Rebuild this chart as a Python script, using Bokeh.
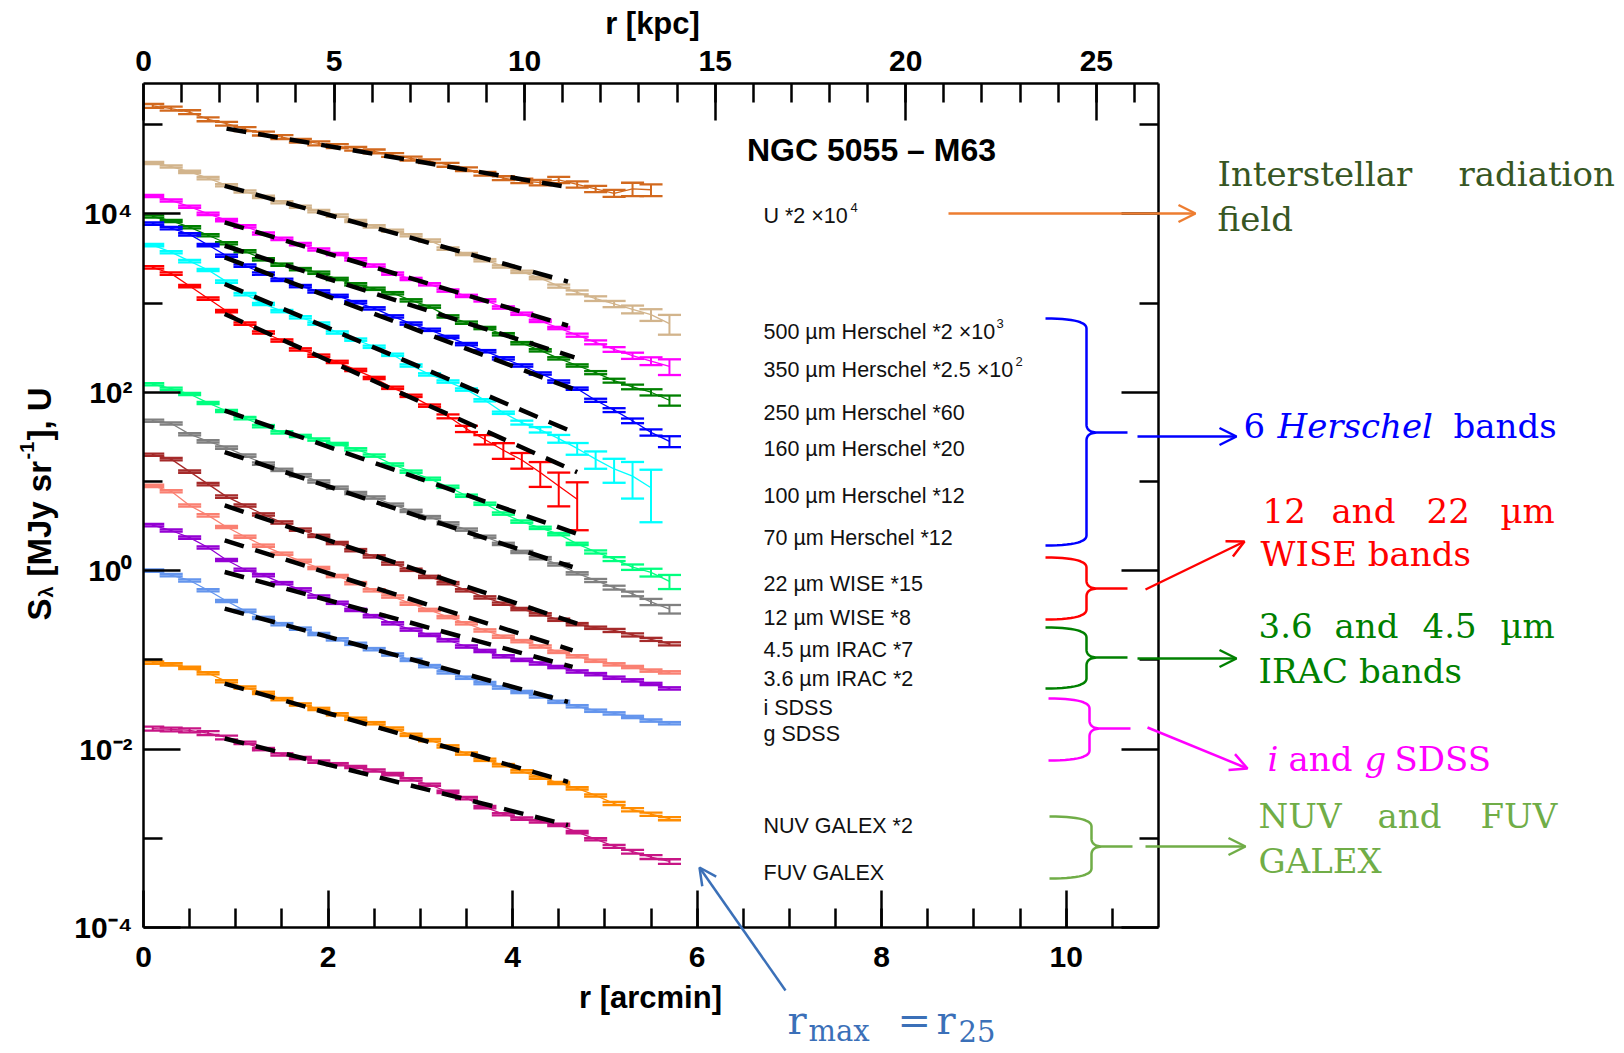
from math import log10, pi
import numpy as np
from bokeh.plotting import figure
from bokeh.models import (Range1d, LinearAxis, LogAxis, FixedTicker, Label, GridBox,
                          Arrow, OpenHead, CustomJSTickFormatter)
from bokeh.embed import file_html
from bokeh.resources import INLINE

# ---------------- data ----------------
r_arcmin = [0.1, 0.3, 0.5, 0.7, 0.9, 1.1, 1.3, 1.5, 1.7, 1.9, 2.1, 2.3, 2.5, 2.7, 2.9,
            3.1, 3.3, 3.5, 3.7, 3.9, 4.1, 4.3, 4.5, 4.7, 4.9, 5.1, 5.3, 5.5, 5.7]
KPC_PER_ARCMIN = 2.421

# log10 of the (scaled) surface brightness / U
log_U = [5.21, 5.18, 5.14, 5.06, 5.01, 4.95, 4.90, 4.86, 4.82, 4.79, 4.76, 4.73, 4.70, 4.66,
         4.62, 4.59, 4.55, 4.50, 4.45, 4.40, 4.37, 4.35, 4.38, 4.33, 4.28, 4.23, 4.28, 4.27]
log_500 = [4.57, 4.53, 4.47, 4.40, 4.32, 4.25, 4.19, 4.13, 4.08, 4.03, 3.98, 3.92, 3.86, 3.81, 3.76,
           3.70, 3.61, 3.55, 3.48, 3.41, 3.35, 3.28, 3.19, 3.12, 3.05, 2.99, 2.93, 2.87, 2.77]
log_350 = [4.20, 4.15, 4.08, 4.00, 3.93, 3.86, 3.78, 3.72, 3.66, 3.60, 3.55, 3.49, 3.42, 3.33, 3.27,
           3.21, 3.14, 3.08, 3.03, 2.95, 2.88, 2.80, 2.72, 2.64, 2.56, 2.48, 2.41, 2.35, 2.29]
log_250 = [3.97, 3.92, 3.85, 3.76, 3.67, 3.58, 3.49, 3.43, 3.38, 3.34, 3.27, 3.21, 3.16, 3.11, 3.03,
           2.96, 2.85, 2.78, 2.72, 2.65, 2.55, 2.47, 2.38, 2.30, 2.22, 2.13, 2.06, 2.00, 1.91]
log_160 = [3.89, 3.84, 3.77, 3.65, 3.53, 3.42, 3.33, 3.26, 3.19, 3.13, 3.08, 3.01, 2.94, 2.85, 2.77,
           2.70, 2.62, 2.54, 2.46, 2.38, 2.30, 2.21, 2.12, 2.04, 1.91, 1.80, 1.68, 1.55, 1.45]
log_100 = [3.65, 3.57, 3.47, 3.37, 3.24, 3.10, 2.99, 2.91, 2.84, 2.77, 2.67, 2.59, 2.51, 2.42, 2.30,
           2.20, 2.12, 2.03, 1.91, 1.77, 1.66, 1.58, 1.48, 1.37, 1.25, 1.14, 1.06, 0.93]
log_70 = [3.40, 3.33, 3.19, 3.05, 2.91, 2.77, 2.67, 2.58, 2.48, 2.41, 2.34, 2.25, 2.16, 2.05, 1.96,
          1.85, 1.73, 1.59, 1.47, 1.35, 1.24, 1.10, 0.95, 0.80]
log_22 = [2.09, 2.04, 1.98, 1.88, 1.79, 1.71, 1.62, 1.55, 1.51, 1.47, 1.42, 1.36, 1.29, 1.19, 1.11,
          1.03, 0.94, 0.84, 0.75, 0.64, 0.55, 0.48, 0.41, 0.30, 0.21, 0.13, 0.04, -0.02, -0.12]
log_12 = [1.68, 1.65, 1.53, 1.45, 1.38, 1.29, 1.20, 1.13, 1.07, 1.00, 0.93, 0.87, 0.82, 0.74, 0.67,
          0.60, 0.53, 0.46, 0.38, 0.30, 0.21, 0.14, 0.07, -0.03, -0.11, -0.19, -0.26, -0.35, -0.43]
log_45 = [1.30, 1.25, 1.11, 0.97, 0.83, 0.73, 0.63, 0.54, 0.46, 0.39, 0.31, 0.23, 0.16, 0.08, 0.01,
          -0.07, -0.14, -0.22, -0.30, -0.37, -0.43, -0.49, -0.55, -0.60, -0.64, -0.67, -0.72, -0.77, -0.82]
log_36 = [0.95, 0.89, 0.73, 0.62, 0.49, 0.38, 0.28, 0.19, 0.11, 0.03, -0.06, -0.14, -0.22, -0.29, -0.37,
          -0.44, -0.52, -0.59, -0.67, -0.74, -0.79, -0.85, -0.91, -0.96, -1.01, -1.05, -1.08, -1.12, -1.14]
log_i = [0.51, 0.45, 0.37, 0.26, 0.12, 0.01, -0.05, -0.14, -0.21, -0.29, -0.36, -0.44, -0.51, -0.59, -0.66,
         -0.72, -0.78, -0.85, -0.90, -0.96, -1.00, -1.04, -1.08, -1.13, -1.16, -1.20, -1.23, -1.27, -1.32]
log_g = [0.00, -0.05, -0.11, -0.22, -0.34, -0.45, -0.53, -0.60, -0.65, -0.71, -0.77, -0.82, -0.88, -0.94, -1.00,
         -1.07, -1.14, -1.20, -1.26, -1.31, -1.36, -1.41, -1.47, -1.52, -1.57, -1.60, -1.64, -1.68, -1.71]
log_NUV = [-1.03, -1.05, -1.09, -1.15, -1.24, -1.31, -1.37, -1.44, -1.50, -1.55, -1.61, -1.66, -1.71, -1.77, -1.84,
           -1.90, -1.97, -2.05, -2.12, -2.18, -2.25, -2.32, -2.38, -2.44, -2.52, -2.61, -2.68, -2.73, -2.78]
log_FUV = [-1.77, -1.78, -1.79, -1.82, -1.87, -1.93, -2.00, -2.06, -2.10, -2.14, -2.17, -2.20, -2.24, -2.28, -2.34,
           -2.40, -2.48, -2.55, -2.65, -2.73, -2.78, -2.81, -2.85, -2.93, -3.01, -3.09, -3.15, -3.21, -3.26]

# relative (linear) errors
err_U = [0.05, 0.05, 0.05, 0.05, 0.05, 0.05, 0.05, 0.05, 0.05, 0.05, 0.05, 0.05, 0.05, 0.05,
         0.05, 0.05, 0.05, 0.05, 0.05, 0.05, 0.06, 0.07, 0.08, 0.08, 0.08, 0.09, 0.17, 0.15]
err_500 = [0.03] * 22 + [0.04, 0.05, 0.06, 0.08, 0.10, 0.15, 0.25]
err_350 = [0.03] * 23 + [0.04, 0.05, 0.06, 0.08, 0.10, 0.20]
err_250 = [0.03] * 24 + [0.04, 0.05, 0.06, 0.08, 0.13]
err_160 = [0.03] * 24 + [0.04, 0.05, 0.06, 0.08, 0.14]
err_100 = [0.03] * 20 + [0.05, 0.07, 0.10, 0.15, 0.22, 0.30, 0.44, 0.59]
err_70 = [0.03] * 16 + [0.05, 0.08, 0.12, 0.20, 0.20, 0.31, 0.41, 0.55]
err_22 = [0.03] * 24 + [0.04, 0.05, 0.07, 0.10, 0.18]
err_12 = [0.03] * 24 + [0.04, 0.05, 0.06, 0.08, 0.11]
err_45 = [0.03] * 25 + [0.04, 0.04, 0.04, 0.04]
err_36 = [0.03] * 29
err_i = [0.03] * 29
err_g = [0.03] * 29
err_NUV = [0.03] * 25 + [0.04, 0.04, 0.04, 0.04]
err_FUV = [0.05] * 5 + [0.03] * 20 + [0.04, 0.05, 0.05, 0.06]

series_logs = [log_U, log_500, log_350, log_250, log_160, log_100, log_70, log_22, log_12,
               log_45, log_36, log_i, log_g, log_NUV, log_FUV]
series_errs = [err_U, err_500, err_350, err_250, err_160, err_100, err_70, err_22, err_12,
               err_45, err_36, err_i, err_g, err_NUV, err_FUV]
series_colors = ["#D2691E", "#D2B48C", "#FF00FF", "#008000", "#0000FF", "#00FFFF", "#FF0000",
                 "#00FF7F", "#808080", "#A52A2A", "#FA8072", "#9400D3", "#6495ED", "#FF8C00", "#C71585"]

# exponential-disc fits (start radius, end radius, log start, log end)
fit_r0 = [0.90, 0.88, 0.88, 0.88, 0.88, 0.88, 0.88, 0.88, 0.88, 0.88, 0.88, 0.88, 0.88, 0.88, 0.88]
fit_r1 = [4.65, 4.60, 4.60, 4.67, 4.70, 4.70, 4.70, 4.70, 4.65, 4.70, 4.65, 4.65, 4.60, 4.60, 4.60]
fit_l0 = [4.955, 4.314, 3.904, 3.642, 3.512, 3.213, 2.877, 1.795, 1.328, 0.731, 0.339, -0.015, -0.426, -1.266, -1.881]
fit_l1 = [4.29, 3.24, 2.747, 2.392, 2.019, 1.534, 1.104, 0.414, 0.041, -0.594, -0.893, -1.079, -1.471, -2.367, -2.852]

band_labels = ["U *2 \u00d710", "500 \u00b5m Herschel *2 \u00d710", "350 \u00b5m Herschel *2.5 \u00d710",
               "250 \u00b5m Herschel *60", "160 \u00b5m Herschel *20", "100 \u00b5m Herschel *12",
               "70 \u00b5m Herschel *12", "22 \u00b5m WISE *15", "12 \u00b5m WISE *8",
               "4.5 \u00b5m IRAC *7", "3.6 \u00b5m IRAC *2", "i SDSS", "g SDSS",
               "NUV GALEX *2", "FUV GALEX"]
band_sups = ["4", "3", "2", "", "", "", "", "", "", "", "", "", "", "", ""]

x_ticks = [0, 2, 4, 6, 8, 10]
kpc_ticks = [0, 5, 10, 15, 20, 25]
y_ticks = [1e-4, 1e-2, 1, 1e2, 1e4]
y_tick_labels = ["10\u207b\u2074", "10\u207b\u00b2", "10\u2070", "10\u00b2", "10\u2074"]

# ---------------- geometry (page pixels) ----------------
W, H = 1620, 1050
FR_L, FR_R, FR_T, FR_B = 143, 1158, 83, 927
X_MAX = 11.0
Y_MIN, Y_MAX = 1e-4, 2.89e5

p = figure(width=W, height=H, x_range=Range1d(0, X_MAX), y_range=Range1d(Y_MIN, Y_MAX),
           y_axis_type="log", output_backend="svg", toolbar_location=None, title=None,
           min_border_left=FR_L, min_border_right=W - FR_R,
           min_border_top=FR_T, min_border_bottom=H - FR_B, frame_align=False)
p.outline_line_color = None
p.xgrid.visible = False
p.ygrid.visible = False
p.extra_x_ranges = {"kpc": Range1d(0, X_MAX * KPC_PER_ARCMIN)}
p.add_layout(LinearAxis(x_range_name="kpc"), "above")
p.add_layout(LogAxis(), "right")

for ax in p.axis:
    ax.axis_line_width = 2.5
    ax.axis_line_color = "black"
    ax.major_tick_line_width = 2.5
    ax.minor_tick_line_width = 2.5
    ax.major_tick_in = 37
    ax.major_tick_out = 0
    ax.minor_tick_in = 19
    ax.minor_tick_out = 0
    ax.major_label_text_font = "Liberation Sans"
    ax.major_label_text_font_style = "bold"
    ax.major_label_text_font_size = "30px"
    ax.major_label_text_color = "black"

ylog_ticker = FixedTicker(ticks=y_ticks, minor_ticks=[1e-3, 1e-1, 1e1, 1e3, 1e5])
left = p.left[0]
left.ticker = ylog_ticker
left.major_label_overrides = {t: s for t, s in zip(y_ticks, y_tick_labels)}
left.major_label_standoff = 11
right = p.right[0]
right.ticker = ylog_ticker
right.formatter = CustomJSTickFormatter(code="return ''")
right.major_label_standoff = 0

bottom = p.below[0]
bottom.ticker = FixedTicker(ticks=x_ticks, minor_ticks=[0.5 * k for k in range(1, 22)])
bottom.major_label_standoff = 19
top = p.above[0]
top.ticker = FixedTicker(ticks=kpc_ticks, minor_ticks=list(range(1, 27)))
top.major_label_standoff = 13

# ---------------- data marks ----------------
HW = 0.125  # half width of error-bar caps (arcmin)
for logs, errs, col in zip(series_logs, series_errs, series_colors):
    n = len(logs)
    xs = np.array(r_arcmin[:n])
    ys = 10 ** np.array(logs)
    e = ys * np.array(errs)
    p.line(xs, ys, line_color=col, line_width=1.3)
    p.segment(xs, ys - e, xs, ys + e, line_color=col, line_width=2)
    p.segment(xs - HW, ys + e, xs + HW, ys + e, line_color=col, line_width=2.3)
    p.segment(xs - HW, ys - e, xs + HW, ys - e, line_color=col, line_width=2.3)

for r0, r1, l0, l1 in zip(fit_r0, fit_r1, fit_l0, fit_l1):
    p.line([r0, r1], [10 ** l0, 10 ** l1], line_color="black", line_width=4.5, line_dash="20 12")

# ---------------- transparent overlay for annotations (page-pixel coordinates) ----------------
ov = figure(width=W, height=H, x_range=Range1d(0, W), y_range=Range1d(0, H),
            x_axis_location=None, y_axis_location=None, output_backend="svg",
            toolbar_location=None, title=None, min_border=0, frame_align=False)
for g in ov.grid:
    g.visible = False
ov.outline_line_color = None
ov.background_fill_color = None
ov.border_fill_color = None


def lab(px, py, text, size, font="Liberation Sans", color="black", style="normal",
        align="left", baseline="middle", angle=0.0):
    ov.add_layout(Label(x=px, y=H - py, text=text, text_font=font,
                        text_font_size=f"{size}px", text_color=color, text_font_style=style,
                        text_align=align, text_baseline=baseline, angle=angle))


# axis titles
lab(650, 997, "r [arcmin]", 31, style="bold", align="center")
lab(652, 23, "r [kpc]", 31, style="bold", align="center")

# rotated y-axis title pieces: S_lambda [MJy sr^-1], U
lab(39, 620, "S", 33, style="bold", baseline="alphabetic", angle=pi / 2)
lab(45, 597, "\u03bb", 20, style="bold", baseline="alphabetic", angle=pi / 2)
lab(39, 576, "[MJy sr", 33, style="bold", baseline="alphabetic", angle=pi / 2)
lab(26, 459, "-1", 20, style="bold", baseline="alphabetic", angle=pi / 2)
lab(39, 440, "], U", 33, style="bold", baseline="alphabetic", angle=pi / 2)

# title inside the frame
lab(871, 149, "NGC 5055 \u2013 M63", 32, style="bold", align="center")

# band labels
band_py = [215, 331, 369, 412, 448, 495, 537, 583, 617, 649, 678, 707, 733, 825, 872]
sup_px = [850, 996, 1015]
for i, (t, py) in enumerate(zip(band_labels, band_py)):
    lab(763, py, t, 21.5, color="#111111")
    if band_sups[i]:
        lab(sup_px[i], py - 8, band_sups[i], 13, color="#111111")


# braces
def qbez(p0, c, p1, n=14):
    t = np.linspace(0, 1, n)
    xs = (1 - t) ** 2 * p0[0] + 2 * (1 - t) * t * c[0] + t ** 2 * p1[0]
    ys = (1 - t) ** 2 * p0[1] + 2 * (1 - t) * t * c[1] + t ** 2 * p1[1]
    return list(zip(xs, ys))


def brace(xl, yt, yb, ytip, xv, xtip, color):
    pts = []
    pts += qbez((xl, yt), (xv, yt), (xv, yt + 10))
    pts += qbez((xv, ytip - 8), (xv, ytip), (xv + 12, ytip))
    pts += [(xtip, ytip), (xv + 12, ytip)]
    pts += qbez((xv + 12, ytip), (xv, ytip), (xv, ytip + 8))
    pts += qbez((xv, yb - 10), (xv, yb), (xl, yb))
    ov.line([a for a, _ in pts], [H - b for _, b in pts], line_color=color, line_width=2.5)


C_HER, C_WISE, C_IRAC, C_SDSS, C_GALEX = "#0000FF", "#FF0000", "#008000", "#FF00FF", "#70AD47"
C_ISRF_T, C_ISRF_A, C_RMAX = "#375623", "#ED7D31", "#3B70B8"

brace(1045, 318, 545, 432, 1086, 1127, C_HER)
brace(1045, 557, 619, 588, 1086, 1127, C_WISE)
brace(1045, 627, 688, 657, 1086, 1127, C_IRAC)
brace(1048, 698, 760, 728, 1089, 1130, C_SDSS)
brace(1049, 816, 878, 846, 1091, 1132, C_GALEX)


def arrow(x0, y0, x1, y1, color):
    ov.add_layout(Arrow(x_start=x0, y_start=H - y0, x_end=x1, y_end=H - y1,
                        line_color=color, line_width=2.5,
                        end=OpenHead(size=17, line_color=color, line_width=2.5)))


arrow(948, 213, 1195, 213, C_ISRF_A)
arrow(1137, 436, 1236, 436, C_HER)
arrow(1145, 589, 1244, 541, C_WISE)
arrow(1137, 658, 1236, 658, C_IRAC)
arrow(1147, 727, 1247, 768, C_SDSS)
arrow(1145, 846, 1245, 846, C_GALEX)
arrow(785, 990, 699, 867, C_RMAX)

SERIF = "DejaVu Serif"
FS = 34
lab(1217, 173, "Interstellar", FS, SERIF, C_ISRF_T)
lab(1458, 173, "radiation", FS, SERIF, C_ISRF_T)
lab(1217, 218, "field", FS, SERIF, C_ISRF_T)
lab(1243, 425, "6", FS, SERIF, C_HER)
lab(1277, 425, "Herschel", FS, SERIF, C_HER, style="italic")
lab(1453, 425, "bands", FS, SERIF, C_HER)
lab(1262, 510, "12", FS, SERIF, C_WISE)
lab(1331, 510, "and", FS, SERIF, C_WISE)
lab(1426, 510, "22", FS, SERIF, C_WISE)
lab(1500, 510, "\u00b5m", FS, SERIF, C_WISE)
lab(1260, 553, "WISE bands", FS, SERIF, C_WISE)
lab(1258, 625, "3.6", FS, SERIF, C_IRAC)
lab(1334, 625, "and", FS, SERIF, C_IRAC)
lab(1422, 625, "4.5", FS, SERIF, C_IRAC)
lab(1500, 625, "\u00b5m", FS, SERIF, C_IRAC)
lab(1258, 670, "IRAC bands", FS, SERIF, C_IRAC)
lab(1267, 758, "i", FS, SERIF, C_SDSS, style="italic")
lab(1288, 758, "and", FS, SERIF, C_SDSS)
lab(1364, 758, "g", FS, SERIF, C_SDSS, style="italic")
lab(1394, 758, "SDSS", FS, SERIF, C_SDSS)
lab(1258, 815, "NUV", FS, SERIF, C_GALEX)
lab(1377, 815, "and", FS, SERIF, C_GALEX)
lab(1480, 815, "FUV", FS, SERIF, C_GALEX)
lab(1258, 860, "GALEX", FS, SERIF, C_GALEX)

# r_max = r_25
lab(787, 1019, "r", 40, SERIF, C_RMAX, baseline="alphabetic")
lab(808, 1030, "max", 29, SERIF, C_RMAX, baseline="alphabetic")
lab(897, 1019, "=", 40, SERIF, C_RMAX, baseline="alphabetic")
lab(936, 1019, "r", 40, SERIF, C_RMAX, baseline="alphabetic")
lab(958, 1030, "25", 29, SERIF, C_RMAX, baseline="alphabetic")

layout = GridBox(children=[(p, 0, 0), (ov, 0, 0)])
open("out.html", "w").write(file_html(layout, INLINE))
